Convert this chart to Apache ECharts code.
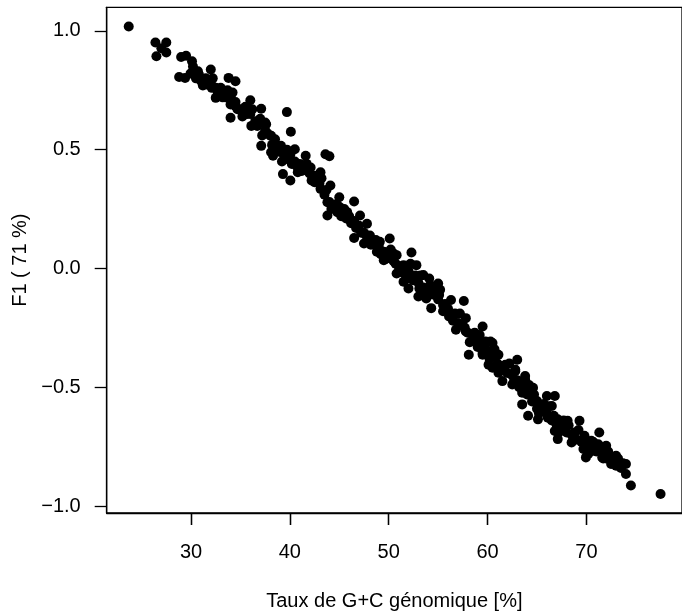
<!DOCTYPE html>
<html>
<head>
<meta charset="utf-8">
<script src="https://cdn.jsdelivr.net/npm/echarts@6/dist/echarts.min.js"></script>
<style>html,body{margin:0;padding:0;background:#fff}#c{width:682px;height:616px}</style>
</head>
<body>
<div id="c"></div>
<script>
// Genome G+C content (%) and first factor coordinate F1
var gcRate = [
23.7,26.4,27.5,26.5,27.5,27.0,29.0,29.5,30.1,28.8,29.4,30.3,30.8,31.3,32.0,31.6,32.1,32.5,33.8,34.5,33.1,34.0,34.5,34.0,36.0,35.5,37.1,36.1,37.6,37.1,38.1,38.1,
37.5,39.7,40.1,38.5,39.1,40.5,38.3,39.8,41.6,43.6,44.0,39.3,40.05,40.8,42.1,43.1,42.5,43.1,44.1,43.8,45.0,46.5,43.8,44.8,45.8,47.1,47.8,46.5,48.1,47.5,49.1,50.1,48.8,50.5,52.3,
49.5,50.8,51.5,52.8,50.8,52.1,53.5,54.1,51.5,52.0,53.1,55.0,53.0,53.8,55.1,54.3,55.5,56.3,57.6,56.1,57.8,56.8,57.8,59.5,58.8,59.8,60.5,58.1,59.5,61.1,60.1,61.8,63.0,61.1,62.8,63.8,
59.1,60.3,59.5,60.5,62.8,61.5,62.5,63.8,64.6,63.5,63.5,65.0,66.0,66.8,66.5,64.1,65.1,66.1,67.1,68.1,69.3,66.8,67.8,68.8,67.1,68.5,69.8,71.3,70.5,69.95,70.8,72.0,71.6,72.5,73.0,74.0,74.0,74.5,77.5,
29.95,30.5,31.0,31.5,32.0,32.5,33.0,33.5,34.0,34.5,35.0,35.5,36.0,36.5,37.0,37.5,38.0,38.5,39.0,39.5,40.05,40.5,41.0,41.5,42.0,42.5,43.0,43.5,44.0,44.5,45.0,45.5,46.0,46.5,47.0,47.5,48.0,48.5,49.0,49.5,49.95,50.5,51.0,51.5,52.0,52.5,53.0,53.5,54.0,54.5,55.0,55.5,56.0,56.5,57.0,57.5,58.0,58.5,59.0,59.5,60.05,60.5,61.0,61.5,62.0,62.5,63.0,63.5,64.0,64.5,65.0,65.5,66.0,66.5,67.0,67.5,68.0,68.5,69.0,69.5,69.95,70.5,71.0,71.5,72.0,72.5,73.0,73.5,
30.2,31.2,32.2,33.2,34.2,35.2,36.2,37.2,38.2,39.2,40.2,41.2,42.2,43.2,44.2,45.2,46.2,47.2,48.2,49.2,50.2,51.2,52.2,53.2,54.2,55.2,56.2,57.2,58.2,59.2,60.2,61.2,62.2,63.2,64.2,65.2,66.2,67.2,68.2,69.2,70.2,71.2,72.2,73.2,
30.7,31.7,32.7,33.7,34.7,35.7,36.7,37.7,38.7,39.7,40.7,41.7,42.7,43.7,44.7,45.7,46.7,47.7,48.7,49.7,50.7,51.7,52.7,53.7,54.7,55.7,56.7,57.7,58.7,59.7,60.7,61.7,62.7,63.7,64.7,65.7,66.7,67.7,68.7,69.7,70.7,71.7,72.7,73.7
];
var f1 = [
1.018,0.951,0.951,0.893,0.909,0.927,0.890,0.895,0.872,0.806,0.802,0.830,0.816,0.795,0.837,0.774,0.760,0.718,0.802,0.788,0.739,0.711,0.683,0.634,0.708,0.656,0.672,0.600,0.607,0.516,0.558,0.489,
0.614,0.658,0.575,0.544,0.516,0.502,0.474,0.460,0.474,0.481,0.472,0.397,0.370,0.405,0.425,0.405,0.363,0.335,0.349,0.279,0.300,0.282,0.223,0.237,0.237,0.223,0.188,0.128,0.139,0.105,0.112,0.126,0.070,0.063,0.067,
0.035,0.056,0.014,0.014,-0.021,-0.042,-0.028,-0.042,-0.056,-0.084,-0.084,-0.063,-0.118,-0.126,-0.112,-0.167,-0.154,-0.133,-0.137,-0.202,-0.209,-0.258,-0.265,-0.244,-0.293,-0.307,-0.314,-0.363,-0.363,-0.363,-0.405,-0.405,-0.384,-0.439,-0.432,-0.453,
-0.307,-0.307,-0.356,-0.418,-0.425,-0.474,-0.488,-0.467,-0.502,-0.523,-0.572,-0.558,-0.537,-0.537,-0.579,-0.620,-0.635,-0.628,-0.635,-0.641,-0.641,-0.684,-0.669,-0.690,-0.718,-0.732,-0.704,-0.690,-0.725,-0.795,-0.767,-0.746,-0.795,-0.823,-0.788,-0.823,-0.865,-0.913,-0.949,
0.82,0.80,0.79,0.80,0.78,0.76,0.76,0.72,0.69,0.70,0.67,0.68,0.65,0.62,0.63,0.58,0.56,0.52,0.49,0.47,0.48,0.45,0.44,0.42,0.40,0.39,0.36,0.31,0.28,0.26,0.26,0.25,0.22,0.20,0.18,0.15,0.12,0.11,0.09,0.07,0.05,0.03,0.01,-0.02,-0.01,-0.05,-0.06,-0.08,-0.10,-0.11,-0.13,-0.18,-0.17,-0.22,-0.23,-0.24,-0.27,-0.30,-0.33,-0.32,-0.35,-0.37,-0.40,-0.42,-0.44,-0.45,-0.47,-0.49,-0.53,-0.56,-0.59,-0.60,-0.61,-0.64,-0.66,-0.67,-0.69,-0.70,-0.72,-0.73,-0.74,-0.76,-0.77,-0.77,-0.80,-0.80,-0.83,-0.84,
0.85,0.77,0.80,0.72,0.74,0.64,0.67,0.56,0.52,0.45,0.44,0.41,0.37,0.38,0.25,0.22,0.19,0.15,0.10,0.06,0.08,-0.01,0.02,-0.03,-0.07,-0.09,-0.20,-0.19,-0.31,-0.28,-0.38,-0.41,-0.40,-0.50,-0.49,-0.61,-0.58,-0.69,-0.66,-0.68,-0.78,-0.74,-0.77,-0.80,
0.83,0.79,0.74,0.75,0.67,0.65,0.60,0.57,0.50,0.50,0.43,0.44,0.38,0.33,0.27,0.21,0.17,0.14,0.12,0.04,0.02,0.00,-0.03,-0.10,-0.08,-0.15,-0.19,-0.25,-0.27,-0.33,-0.34,-0.43,-0.47,-0.51,-0.53,-0.57,-0.62,-0.64,-0.72,-0.76,-0.73,-0.80,-0.82,-0.82
];
var xTicks = [30, 40, 50, 60, 70];
var yTicks = [-1.0, -0.5, 0.0, 0.5, 1.0];
var xTitle = 'Taux de G+C génomique [%]';
var yTitle = 'F1 ( 71 %)';

var pts = gcRate.map(function (x, i) { return [x, f1[i]]; });
var font = 'Liberation Sans, Arial, Helvetica, sans-serif';
var tickStyle = {color: '#000', width: 1.3};
var chart = echarts.init(document.getElementById('c'), null, {renderer: 'canvas'});
chart.setOption({
  animation: false,
  backgroundColor: '#fff',
  grid: {left: 106.7, top: 7.3, width: 582, height: 508.7, show: true, borderColor: '#000', borderWidth: 1.3},
  xAxis: [{
    type: 'value', min: 21.47, max: 79.67, position: 'bottom',
    axisLine: {show: true, onZero: false, lineStyle: {color: '#000', width: 1.3}},
    splitLine: {show: false},
    axisTick: {show: true, length: 12, customValues: xTicks, lineStyle: tickStyle},
    axisLabel: {customValues: xTicks, color: '#000', fontSize: 20, fontFamily: font, margin: 29},
    name: xTitle, nameLocation: 'middle', nameGap: 78,
    nameTextStyle: {color: '#000', fontSize: 20, fontFamily: font}
  }, {
    type: 'value', min: 21.47, max: 79.67, position: 'bottom', offset: 0,
    axisLine: {show: false, onZero: false},
    splitLine: {show: false},
    axisTick: {show: true, length: 12, customValues: xTicks, lineStyle: tickStyle},
    axisLabel: {show: false}
  }],
  yAxis: {
    type: 'value', min: -1.029, max: 1.099,
    axisLine: {show: true, onZero: false, lineStyle: {color: '#000', width: 1.3}},
    splitLine: {show: false},
    axisTick: {show: true, length: 12, customValues: yTicks, lineStyle: tickStyle},
    axisLabel: {customValues: yTicks, color: '#000', fontSize: 20, fontFamily: font, margin: 26,
      formatter: function (v) { var s = Math.abs(v).toFixed(1); return (v < 0 ? '\u2212' : '') + s; }},
    name: yTitle, nameLocation: 'middle', nameGap: 72,
    nameTextStyle: {color: '#000', fontSize: 20, fontFamily: font}
  },
  series: [{
    type: 'scatter', data: pts, xAxisIndex: 0, symbol: 'circle', symbolSize: 10,
    itemStyle: {color: '#000', opacity: 1}
  }]
});
</script>
</body>
</html>
